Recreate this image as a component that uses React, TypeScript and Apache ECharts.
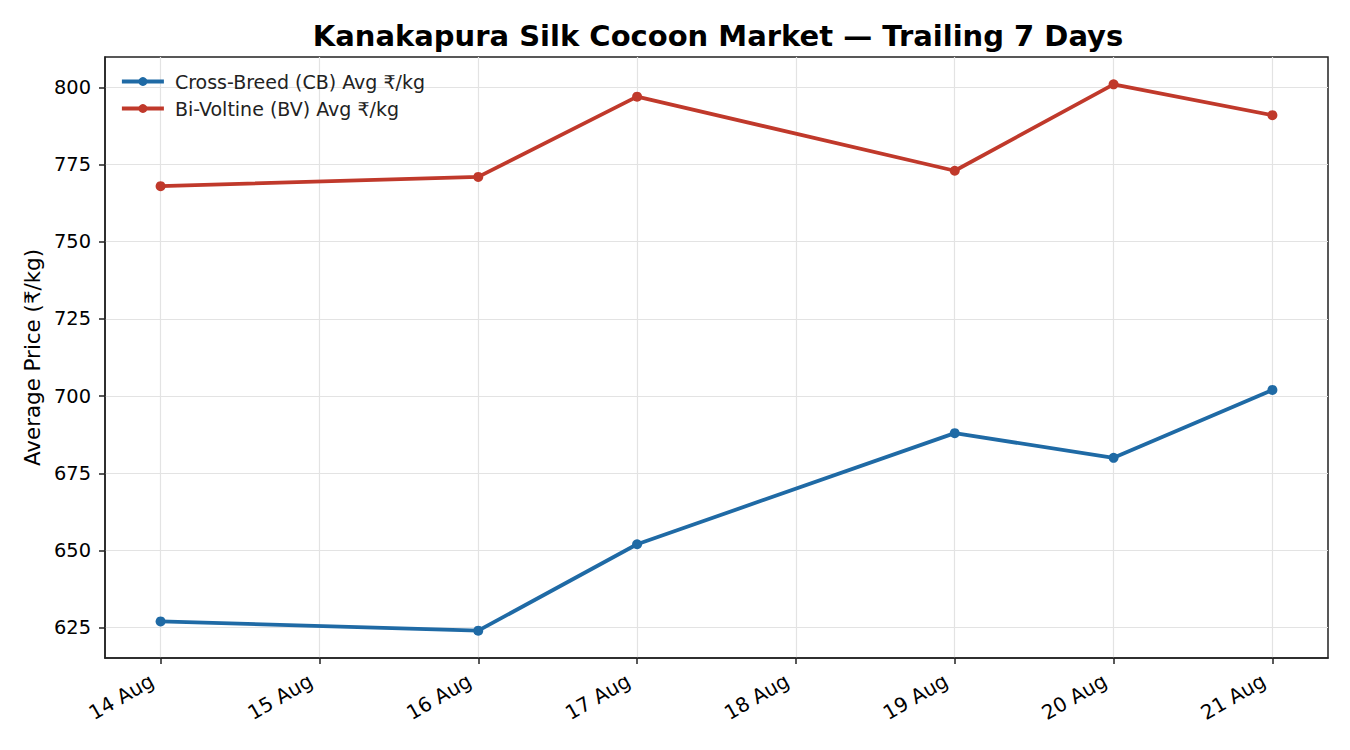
import React, { useEffect, useRef } from "react";
import * as echarts from "echarts";

const dayLabels = ["14 Aug", "15 Aug", "16 Aug", "17 Aug", "18 Aug", "19 Aug", "20 Aug", "21 Aug"];
const dayIndex = [0, 2, 3, 5, 6, 7];
const cbValues = [627, 624, 652, 688, 680, 702];
const bvValues = [768, 771, 797, 773, 801, 791];
const yTicks = [625, 650, 675, 700, 725, 750, 775, 800];
const xTicks = [0, 1, 2, 3, 4, 5, 6, 7];

const FONT = "DejaVu Sans";

export default function App() {
  const ref = useRef<HTMLDivElement>(null);
  useEffect(() => {
    document.body.style.margin = "0";
    const chart = echarts.init(ref.current!, null, { renderer: "svg" });
    const cbData = dayIndex.map((d, i) => [d, cbValues[i]]);
    const bvData = dayIndex.map((d, i) => [d, bvValues[i]]);
    chart.setOption({
      animation: false,
      backgroundColor: "#ffffff",
      textStyle: { fontFamily: FONT },
      title: {
        text: "Kanakapura Silk Cocoon Market — Trailing 7 Days",
        left: 713,
        textAlign: "center",
        top: 16,
        textStyle: { fontFamily: FONT, fontWeight: "bold", fontSize: 29, color: "#000" },
      },
      legend: {
        orient: "vertical",
        left: 115,
        top: 67,
        itemWidth: 42,
        itemHeight: 11,
        itemGap: 8,
        lineStyle: { width: 3.8 },
        textStyle: { fontFamily: FONT, fontSize: 19, color: "#222", padding: [0, 0, 0, 6] },
        data: ["Cross-Breed (CB) Avg ₹/kg", "Bi-Voltine (BV) Avg ₹/kg"],
      },
      grid: {
        left: 105,
        right: 22,
        top: 57,
        bottom: 92,
        show: true,
        borderColor: "#222",
        borderWidth: 1.5,
        containLabel: false,
      },
      xAxis: {
        type: "value",
        min: -0.35,
        max: 7.35,
        axisLine: { show: true, onZero: false, lineStyle: { color: "#222", width: 1.5 } },
        axisTick: { show: true, length: 6, lineStyle: { color: "#222", width: 1.5 }, customValues: xTicks },
        axisLabel: {
          customValues: xTicks,
          rotate: 30,
          margin: 16,
          padding: [0, 10, 0, 0],
          fontFamily: FONT,
          fontSize: 20,
          color: "#000",
          formatter: (v: number) => dayLabels[Math.round(v)] ?? "",
        },
        splitLine: { show: true, lineStyle: { color: "#e3e3e3", width: 1.2 } },
      },
      yAxis: {
        type: "value",
        min: 615.15,
        max: 809.85,
        name: "Average Price (₹/kg)",
        nameLocation: "middle",
        nameGap: 62,
        nameTextStyle: { fontFamily: FONT, fontSize: 21.4, color: "#000" },
        axisLine: { show: true, onZero: false, lineStyle: { color: "#222", width: 1.5 } },
        axisTick: { show: true, length: 6, lineStyle: { color: "#222", width: 1.5 }, customValues: yTicks },
        axisLabel: {
          customValues: yTicks,
          margin: 14,
          fontFamily: FONT,
          fontSize: 19.4,
          color: "#000",
        },
        splitLine: { show: true, lineStyle: { color: "#e3e3e3", width: 1.2 } },
      },
      series: [
        {
          name: "Cross-Breed (CB) Avg ₹/kg",
          type: "line",
          data: cbData,
          symbol: "circle",
          symbolSize: 10,
          lineStyle: { color: "#1f6aa5", width: 3.8 },
          itemStyle: { color: "#1f6aa5" },
        },
        {
          name: "Bi-Voltine (BV) Avg ₹/kg",
          type: "line",
          data: bvData,
          symbol: "circle",
          symbolSize: 10,
          lineStyle: { color: "#c0392b", width: 3.8 },
          itemStyle: { color: "#c0392b" },
        },
      ],
    });
    return () => chart.dispose();
  }, []);
  return <div ref={ref} style={{ width: 1350, height: 750 }} />;
}
